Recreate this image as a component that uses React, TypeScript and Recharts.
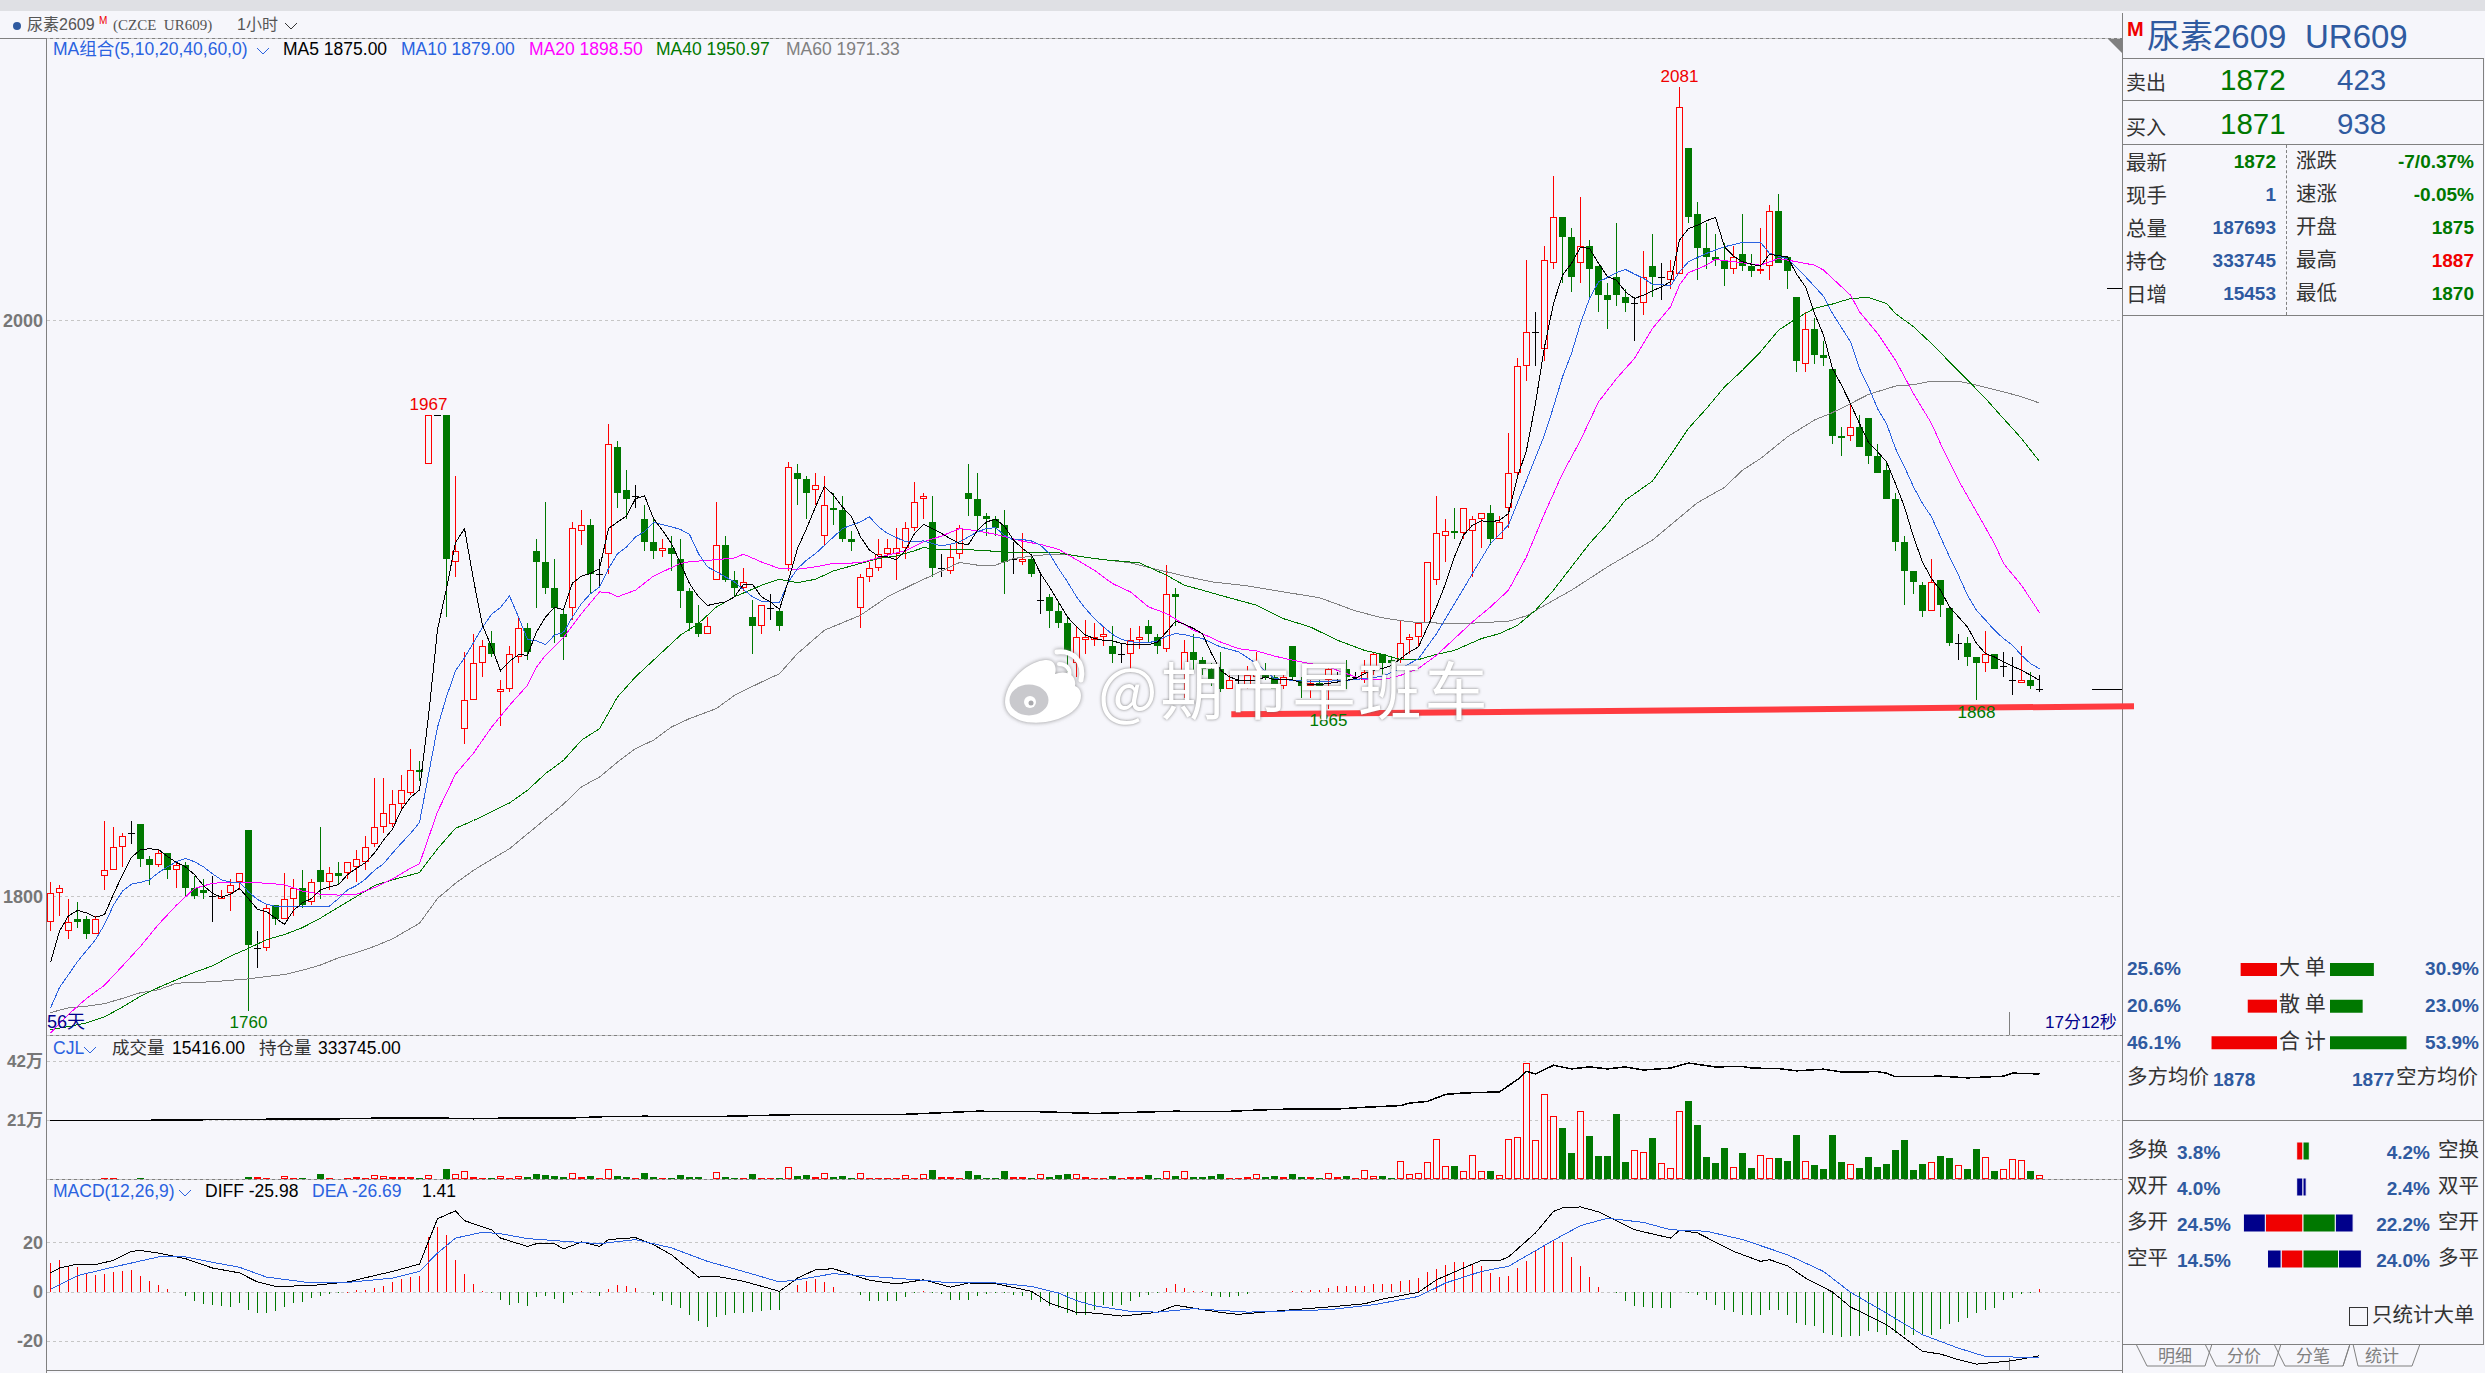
import React from "react";
import { Bar, BarChart, CartesianGrid, ComposedChart, Line, ReferenceDot, ReferenceLine, XAxis, YAxis } from "recharts";

const opens = [
  1791,1801,1788,1792,1792,1787,1807,1809,1817,1822, 1825,1813,1811,1815,1809,1811,1803,1802,1800,1799,
  1801,1805,1823,1782,1782,1797,1792,1799,1803,1798, 1809,1805,1808,1808,1810,1812,1818,1824,1825,1832,
  1836,1844,1950,1967,1967,1916,1858,1868,1881,1888, 1871,1872,1883,1893,1920,1916,1907,1898,1900,1927,
  1929,1912,1919,1956,1941,1939,1931,1923,1920,1921, 1917,1906,1895,1891,1910,1922,1910,1907,1897,1894,
  1900,1899,1915,1947,1945,1941,1925,1935,1934,1924, 1900,1911,1914,1919,1919,1921,1928,1938,1930,1914,
  1913,1919,1940,1938,1932,1931,1929,1917,1916,1917, 1903,1904,1899,1895,1881,1889,1889,1890,1887,1884,
  1884,1889,1894,1890,1886,1905,1878,1885,1882,1879, 1879,1872,1875,1873,1876,1878,1876,1873,1887,1875,
  1873,1874,1875,1875,1879,1876,1875,1879,1884,1882, 1882,1889,1890,1895,1910,1925,1927,1926,1927,1931,
  1933,1924,1935,1947,1984,1996,1990,2020,2036,2029, 2020,2026,2019,2009,2015,2008,2006,2006,2019,2015,
  2014,2016,2060,2037,2025,2022,2021,2018,2023,2019, 2017,2019,2038,2022,2008,1985,1997,1988,1983,1960,
  1960,1963,1966,1953,1948,1938,1923,1913,1908,1899, 1910,1900,1888,1888,1883,1881,1884,1880,1875,1874,
  1875,1872,
];
const highs = [
  1805,1804,1799,1798,1793,1793,1826,1824,1822,1826, 1825,1814,1816,1815,1812,1812,1807,1806,1807,1802,
  1806,1808,1823,1788,1797,1797,1808,1806,1809,1806, 1824,1810,1812,1812,1816,1821,1841,1841,1837,1842,
  1851,1847,1967,1967,1967,1946,1885,1891,1889,1892, 1875,1887,1897,1895,1924,1937,1917,1900,1930,1934,
  1931,1917,1964,1958,1948,1943,1936,1931,1924,1925, 1924,1907,1901,1897,1937,1925,1913,1914,1903,1901,
  1905,1900,1951,1950,1946,1947,1946,1940,1939,1927, 1912,1916,1924,1924,1928,1930,1944,1940,1939,1919,
  1922,1929,1950,1947,1933,1932,1934,1923,1926,1918, 1912,1905,1902,1897,1894,1896,1895,1894,1894,1888,
  1893,1894,1896,1891,1915,1907,1889,1891,1883,1881, 1885,1877,1877,1880,1885,1881,1878,1878,1887,1876,
  1875,1875,1880,1878,1882,1878,1882,1885,1884,1883, 1896,1891,1895,1916,1939,1931,1935,1935,1932,1933,
  1936,1932,1961,1987,2021,2003,2026,2050,2036,2032, 2043,2028,2019,2013,2034,2011,2008,2024,2030,2020,
  2021,2081,2060,2041,2034,2030,2027,2026,2037,2023, 2032,2040,2044,2022,2008,2003,2001,1993,1983,1963,
  1971,1967,1966,1957,1951,1940,1925,1913,1909,1917, 1910,1900,1891,1890,1883,1892,1884,1885,1883,1887,
  1878,1877,
];
const lows = [
  1788,1793,1785,1789,1785,1787,1802,1809,1810,1818, 1810,1804,1810,1806,1803,1800,1799,1799,1791,1799,
  1795,1802,1760,1775,1781,1790,1792,1793,1796,1797, 1799,1802,1804,1806,1805,1809,1817,1822,1824,1830,
  1835,1840,1950,1967,1897,1911,1853,1868,1876,1883, 1859,1871,1881,1882,1900,1905,1888,1882,1896,1922,
  1905,1907,1912,1935,1931,1935,1920,1917,1918,1913, 1900,1892,1890,1891,1910,1909,1904,1906,1884,1891,
  1896,1892,1913,1936,1931,1936,1922,1929,1923,1920, 1893,1909,1913,1918,1910,1917,1927,1931,1911,1911,
  1912,1917,1932,1927,1925,1925,1905,1912,1915,1911, 1898,1893,1893,1878,1876,1884,1887,1887,1881,1881,
  1879,1886,1888,1884,1885,1894,1869,1878,1877,1873, 1871,1872,1873,1872,1871,1875,1872,1872,1875,1869,
  1869,1872,1865,1874,1872,1875,1874,1877,1876,1879, 1881,1884,1887,1895,1908,1916,1924,1924,1911,1921,
  1922,1924,1928,1946,1979,1984,1986,2018,2013,2010, 2013,2007,2003,1997,2005,2003,1993,2002,2008,2007,
  2011,2016,2034,2014,2018,2019,2012,2016,2017,2015, 2016,2014,2020,2011,1982,1982,1985,1984,1957,1953,
  1958,1956,1950,1947,1938,1920,1901,1905,1897,1899, 1897,1887,1882,1880,1868,1878,1879,1876,1870,1874,
  1872,1871,
];
const closes = [
  1801,1803,1791,1791,1787,1792,1809,1817,1821,1822, 1813,1811,1815,1809,1811,1803,1800,1801,1800,1800,
  1804,1808,1783,1782,1796,1792,1799,1803,1797,1805, 1805,1808,1807,1812,1813,1817,1824,1829,1832,1837,
  1844,1843,1967,1967,1917,1920,1868,1881,1887,1884, 1872,1884,1893,1885,1916,1907,1900,1890,1928,1929,
  1912,1912,1957,1940,1938,1939,1923,1920,1921,1919, 1906,1895,1891,1894,1922,1910,1907,1909,1894,1901,
  1900,1894,1949,1945,1940,1943,1936,1934,1924,1923, 1911,1914,1919,1921,1921,1928,1937,1939,1914,1914,
  1918,1928,1938,1932,1931,1928,1916,1917,1917,1912, 1903,1899,1895,1885,1890,1890,1890,1891,1884,1884,
  1889,1890,1891,1887,1905,1904,1885,1882,1879,1874, 1872,1875,1875,1877,1878,1876,1872,1876,1876,1873,
  1874,1873,1879,1875,1876,1876,1878,1884,1881,1881, 1888,1890,1895,1916,1926,1927,1926,1935,1931,1933,
  1924,1930,1947,1984,1996,1996,2021,2036,2029,2015, 2026,2018,2009,2007,2009,2006,2006,2015,2015,2015,
  2017,2074,2036,2025,2022,2021,2018,2022,2019,2017, 2018,2038,2020,2017,1986,1997,1988,1987,1960,1959,
  1963,1956,1953,1947,1938,1923,1913,1909,1899,1909, 1901,1888,1888,1883,1881,1884,1879,1880,1875,1875,
  1873,1872,
];

const ma5 = [
  1777.0,1787.9,1793.2,1795.1,1794.2,1792.7,1793.6,1800.7,1807.5,1813.5, 1816.2,1816.5,1816.2,1813.8,1811.7,1810.2,1807.5,1803.7,1801.0,1799.6,
  1800.7,1802.7,1799.2,1795.4,1794.7,1792.4,1790.2,1795.1,1797.7,1799.2, 1802.2,1803.3,1804.0,1807.5,1809.7,1811.7,1815.0,1819.5,1823.3,1830.1,
  1834.3,1836.9,1862.5,1892.6,1906.9,1922.8,1927.7,1909.9,1894.1,1886.6, 1878.3,1881.6,1883.9,1883.7,1891.8,1897.0,1900.3,1899.6,1908.8,1911.2,
  1912.1,1913.8,1927.7,1930.0,1932.1,1938.1,1939.1,1931.2,1927.1,1922.5, 1915.6,1908.6,1904.0,1901.0,1901.7,1902.2,1904.0,1908.3,1908.3,1904.0,
  1902.2,1899.6,1909.8,1920.8,1927.7,1935.2,1942.4,1939.3,1935.2,1931.8, 1924.8,1920.2,1918.1,1917.9,1916.9,1920.2,1926.0,1929.2,1927.7,1926.0,
  1924.2,1922.5,1922.2,1927.1,1930.0,1931.0,1928.5,1923.7,1920.8,1918.5, 1912.1,1907.4,1902.2,1897.0,1893.6,1890.7,1889.5,1888.9,1888.7,1887.8,
  1887.4,1887.4,1887.4,1888.3,1891.8,1895.5,1894.5,1893.0,1891.2,1884.3, 1878.5,1876.2,1875.0,1875.0,1875.0,1876.2,1875.2,1875.2,1875.2,1874.1,
  1873.5,1873.5,1873.9,1874.4,1875.0,1875.6,1877.3,1878.5,1879.1,1880.2, 1882.5,1884.9,1886.6,1893.5,1900.5,1908.6,1917.9,1925.4,1928.9,1930.4,
  1930.0,1930.6,1932.9,1945.7,1954.9,1971.2,1990.8,2005.9,2015.7,2019.8, 2025.4,2025.0,2019.8,2015.2,2014.0,2009.9,2007.6,2008.8,2010.3,2011.7,
  2013.4,2027.9,2031.9,2033.1,2034.6,2035.8,2025.6,2022.3,2020.4,2019.5, 2018.9,2023.0,2022.5,2022.1,2016.1,2011.7,2002.4,1994.9,1983.3,1977.5,
  1971.1,1964.2,1957.6,1954.4,1950.9,1943.3,1935.2,1924.8,1916.1,1910.3, 1906.3,1900.5,1897.0,1893.5,1887.8,1884.3,1883.1,1881.4,1879.9,1878.5,
  1876.8,1875.0,
];

const ma10: [number, number][] = [
  [0,1761.2],[1,1768.3],[2,1772.8],[3,1777.3],[4,1781.1],[5,1784.9],[6,1790.2],[7,1796.9],[8,1801.8],[9,1804.2],[10,1804.8],[11,1805.7],[12,1808.2],[13,1810.2],[14,1812.0],[15,1813.1],[16,1812.0],[17,1810.2],[18,1807.8],[19,1805.7],[20,1804.9],[21,1804.9],[22,1801.5],[23,1798.9],[24,1797.2],[25,1796.5],[31,1796.6],[32,1799.2],[33,1802.2],[34,1803.7],[35,1806.0],[36,1809.0],[37,1811.3],[38,1815.0],[39,1818.5],[40,1821.8],[41,1825.6],[42,1842.2],[43,1858.7],[44,1869.3],[45,1878.3],[46,1882.8],[47,1888.1],[48,1893.4],[49,1897.9],[50,1900.3],[51,1904.3],
  [52,1897.0],[53,1889.2],[54,1888.7],[55,1887.4],[56,1890.7],[57,1891.6],[58,1897.0],[59,1901.7],[60,1905.1],[61,1907.4],[62,1913.8],[63,1919.0],[64,1921.3],[65,1924.8],[66,1926.6],[67,1929.8],[68,1929.1],[69,1928.3],[70,1927.4],[71,1925.7],[72,1919.0],[73,1914.4],[74,1912.7],[75,1910.9],[76,1909.2],[77,1906.5],[78,1904.0],[79,1902.5],[80,1902.2],[81,1902.0],[82,1909.2],[83,1913.8],[84,1916.7],[85,1919.0],[86,1921.9],[87,1924.8],[88,1927.7],[89,1928.9],[90,1930.0],[91,1931.8],[92,1928.3],[93,1926.0],[94,1924.6],[95,1923.1],[96,1923.3],[97,1923.4],[98,1922.5],[99,1921.7],[100,1922.3],[101,1923.1],[102,1924.8],[103,1926.6],[104,1927.7],[105,1928.0],[106,1925.4],[107,1923.7],[108,1923.9],[109,1923.4],[110,1921.9],[111,1919.0],[112,1913.8],[113,1909.2],[114,1904.0],[115,1899.9],[116,1896.4],[117,1893.6],[118,1890.9],[119,1889.2],[120,1888.4],[121,1888.1],[122,1888.1],[123,1888.7],[124,1890.3],[125,1891.2],[126,1890.9],[127,1890.1],
  [128,1889.5],[130,1886.6],[132,1884.9],[134,1880.8],[136,1875.6],[138,1875.0],[140,1874.7],[142,1874.7],[144,1875.0],[146,1875.6],[148,1876.4],[150,1879.1],[152,1882.5],[154,1891.2],[156,1901.6],[158,1912.1],[160,1922.5],[162,1928.9],[164,1944.5],[166,1960.2],[167,1970.0],[168,1980.4],[169,1988.5],[170,1999.0],[171,2007.6],[172,2013.4],[173,2014.9],[174,2016.6],[175,2017.7],[176,2016.1],[177,2014.6],[178,2012.5],[179,2012.5],[180,2011.9],[181,2016.9],[182,2020.4],[184,2023.3],[186,2025.6],[188,2027.1],[190,2027.1],[191,2023.3],[192,2022.3],[193,2021.5],[195,2015.2],[197,2008.4],[198,2002.4],[200,1992.6],[201,1983.3],[202,1976.9],[203,1969.4],[204,1964.2],[205,1955.5],[206,1949.1],[207,1942.2],[208,1936.4],[209,1931.8],[210,1924.8],[211,1917.9],[212,1911.5],[213,1904.5],[214,1899.3],[215,1895.9],[216,1892.4],[217,1889.5],[218,1887.2],[219,1883.7],[220,1880.8],[221,1879.0],
];
const ma20: [number, number][] = [
  [0,1752.5],[2,1759.0],[4,1764.5],[6,1769.1],[8,1775.8],[10,1782.6],[12,1790.2],[14,1796.9],[16,1802.7],[18,1804.5],[20,1804.9],[22,1804.9],[24,1804.5],[26,1804.0],[28,1801.8],[30,1800.7],[32,1800.4],[34,1800.7],[36,1803.0],[38,1806.0],[40,1809.7],[41,1811.3],[43,1829.3],[45,1842.4],[47,1849.7],[49,1858.7],[51,1866.3],
  [53,1873.3],[54,1879.6],[55,1883.7],[57,1889.8],[59,1898.2],[61,1905.7],[62,1905.5],[63,1904.0],[65,1906.3],[67,1911.2],[70,1915.6],[71,1916.2],[74,1916.9],[76,1917.5],[77,1918.8],[79,1916.1],[81,1913.8],[83,1913.6],[85,1914.4],[87,1915.6],[90,1915.8],[93,1918.5],[95,1920.0],[97,1923.1],[99,1925.1],[101,1927.7],[103,1926.9],[105,1925.7],[108,1923.3],[110,1922.2],[112,1920.5],[114,1916.9],[116,1913.2],[118,1908.6],[120,1905.7],[122,1900.5],[124,1898.2],[127,1892.4],
  [128,1891.2],[130,1888.3],[132,1886.0],[134,1885.2],[136,1883.4],[138,1882.0],[140,1880.8],[142,1879.6],[144,1877.3],[146,1875.2],[148,1875.2],[150,1876.7],[152,1879.1],[154,1883.7],[156,1889.5],[158,1895.3],[160,1900.5],[162,1906.3],[164,1917.9],[166,1932.9],[168,1946.8],[170,1958.4],[172,1971.7],[174,1979.8],[176,1986.8],[178,1997.2],[180,2004.7],[181,2012.3],[182,2016.6],[184,2019.2],[185,2021.2],[187,2020.4],[190,2019.2],[192,2021.5],[194,2020.4],[196,2019.2],[197,2017.5],[199,2011.7],[200,2008.8],[201,2003.0],[203,1995.5],[205,1986.2],[207,1974.6],[209,1964.2],[210,1957.2],[212,1944.5],[214,1933.5],[216,1922.5],[217,1915.6],[219,1908.0],[221,1898.5],
];
const ma40: [number, number][] = [
  [0,1753.7],[2,1754.7],[4,1756.0],[6,1758.1],[8,1761.5],[10,1765.3],[12,1768.3],[14,1771.0],[16,1773.6],[18,1775.8],[20,1779.2],[22,1781.9],[24,1784.9],[26,1786.7],[28,1789.1],[30,1792.4],[32,1796.2],[34,1799.9],[36,1803.7],[38,1805.7],[41,1808.2],[43,1816.5],[45,1823.6],[47,1826.3],[49,1829.3],[51,1832.4],
  [53,1836.8],[55,1842.6],[57,1847.2],[59,1854.2],[61,1858.2],[63,1869.2],[65,1876.2],[67,1882.0],[70,1890.7],[72,1894.7],[74,1900.5],[76,1904.0],[79,1908.0],[81,1910.1],[83,1908.9],[85,1910.1],[87,1913.0],[90,1915.6],[92,1917.3],[94,1918.2],[96,1920.0],[97,1921.1],[99,1920.4],[101,1920.5],[103,1920.2],[106,1919.6],[109,1919.3],[112,1919.3],[114,1918.2],[117,1916.9],[121,1915.8],[124,1911.5],[126,1908.0],
  [128,1906.3],[130,1904.5],[134,1901.1],[137,1896.4],[140,1893.5],[143,1888.9],[146,1885.4],[148,1884.0],[150,1882.2],[152,1882.2],[154,1884.0],[156,1885.4],[159,1889.5],[161,1891.2],[163,1894.1],[165,1899.3],[167,1906.3],[169,1914.4],[171,1922.5],[173,1929.4],[175,1937.6],[178,1944.2],[180,1953.2],[182,1962.5],[184,1969.4],[186,1976.9],[188,1982.7],[190,1989.1],[192,1996.6],[194,2000.7],[196,2004.2],[198,2005.7],[200,2007.6],[202,2008.0],[204,2005.9],[205,2002.4],[207,1997.8],[209,1992.0],[211,1985.6],[213,1979.3],[215,1972.9],[217,1965.9],[219,1959.0],[221,1951.0],
];
const ma60: [number, number][] = [
  [0,1759.6],[2,1761.2],[4,1761.8],[6,1762.7],[8,1764.5],[10,1766.5],[12,1767.5],[14,1769.8],[18,1770.3],[22,1771.3],[24,1772.1],[26,1772.8],[28,1774.3],[30,1776.1],[32,1778.6],[34,1780.4],[36,1782.6],[38,1785.2],[41,1790.6],[43,1799.2],[45,1804.5],[47,1809.0],[49,1812.8],[51,1816.5],[57,1832.0],
  [59,1838.0],[61,1841.4],[63,1846.6],[65,1851.3],[67,1854.2],[69,1858.8],[71,1861.7],[74,1865.2],[76,1869.8],[79,1874.4],[81,1877.3],[83,1884.3],[86,1892.4],[90,1897.6],[93,1904.0],[96,1908.6],[98,1911.5],[101,1915.9],[103,1915.0],[105,1915.0],[107,1917.3],[110,1918.5],[113,1918.7],[116,1917.3],[120,1915.8],[122,1914.2],
  [126,1911.2],[129,1909.2],[133,1907.8],[137,1905.7],[141,1903.7],[145,1899.1],[148,1896.7],[151,1895.3],[154,1894.9],[157,1894.7],[162,1895.5],[164,1897.4],[167,1902.8],[169,1906.3],[173,1914.4],[178,1923.7],[183,1936.7],[186,1942.0],[188,1948.0],[190,1952.0],[193,1959.6],[196,1965.4],[198,1968.0],[200,1971.1],[202,1974.3],[205,1977.2],[207,1977.7],[209,1978.9],[212,1978.9],[214,1977.5],[217,1975.2],[219,1973.5],[221,1971.3],
];

// volume and position, in 万
const volumes = [
  .1,.1,.1,.1,.1,.1,.4,.4,.1,.1, .4,.1,.1,.1,.1,.1,.1,.1,.1,.1,
  .1,.1,.7,.7,.4,.1,1.0,.5,.5,.1, 1.8,.5,.1,.4,.7,.4,1.4,1.2,.8,.6,
  .7,.5,1.4,.1,3.6,1.8,2.9,.7,.4,.4, 1.1,.4,1.0,.7,1.8,1.5,1.2,.7,2.1,.7,
  1.2,.4,3.6,1.2,.8,.5,2.1,.8,.4,.4, 1.4,.8,.7,.1,2.6,.8,.4,.4,1.8,.4,
  .4,.4,4.3,1.2,1.4,.7,2.1,.8,1.1,.4, 2.1,.4,.4,.4,.4,1.4,.4,1.8,3.3,.7,
  .7,.4,3.0,1.5,.4,.4,3.0,.7,.7,.4, 1.8,.7,1.4,1.8,1.8,.7,.4,.2,1.2,.4,
  .7,.7,1.4,.4,2.9,1.2,2.9,.7,.7,1.1, 1.8,.4,.4,.7,1.8,.7,1.1,.7,1.8,.7,
  .7,.4,2.1,.7,1.2,.4,3.2,1.1,1.2,.4, 6.4,1.8,2.1,6.1,14.3,4.6,4.8,2.9,8.6,2.9,
  2.9,1.4,14.3,14.9,41.4,13.9,30.3,22.5,18.2,9.3, 24.3,15.4,8.2,8.2,23.2,6.1,10.4,9.6,14.6,5.7,
  3.9,24.3,27.8,19.3,7.9,5.7,11.1,4.3,9.3,3.9, 8.6,7.5,7.5,6.4,15.7,6.4,5.0,3.6,15.7,6.1,
  5.4,3.9,7.9,4.3,5.4,10.4,13.9,3.2,5.4,6.1, 8.2,7.5,5.0,3.6,10.7,7.9,2.9,3.6,7.1,6.8,
  2.9,1.4,
];
const openInterest: [number, number][] = [
  [0,20.8],[9,20.9],[22,21.3],[30,21.4],[36,21.7],[44,21.7],[47,21.5],[50,21.7],[57,21.7],[62,22.3],[66,22.4],[74,22.3],[83,23.0],[95,23.1],[103,24.2],[110,24.0],[116,23.4],
  [125,24.2],[130,24.0],[134,24.6],[138,25.0],[143,25.0],[146,25.6],[150,26.2],[151,27.1],[153,27.7],[155,30.2],[157,30.7],[161,31.1],[163,35.5],[164,38.4],[165,37.5],[167,40.6],[169,39.3],[171,40.0],[173,39.3],[175,40.0],[177,38.9],[180,39.6],[182,41.4],[185,40.0],[188,40.2],[189,39.6],[192,39.4],[194,38.6],[197,39.2],[199,38.2],[203,38.3],[204,37.8],[205,36.5],[210,36.7],[213,36.1],[217,36.7],[218,37.8],[221,37.5],
];

const diff: [number, number][] = [
  [0,7.8],[1,9.8],[3,11.4],[5,11.2],[7,12.9],[9,16.6],[10,16.9],[12,15.9],[15,13.6],[18,9.8],[21,7.8],[23,4.1],[25,2.3],[29,2.6],[31,3.4],[33,4.1],[36,6.7],[38,8.4],[41,11.4],[42,20.7],[43,29.9],[45,33.1],[46,29.1],[49,25.4],[50,22.0],[53,18.6],[54,19.7],[56,19.7],[57,17.6],[59,20.4],[61,18.6],[62,21.4],[65,22.2],[67,19.3],[69,15.2],[72,6.1],[74,6.4],[77,4.4],[81,0.3],[83,5.7],[85,9.1],[87,9.5],[91,4.8],[94,3.3],[97,5.0],[100,2.0],[102,3.7],[105,3.4],[109,0.3],[111,-4.5],[114,-8.3],[116,-8.6],
  [119,-9.8],[123,-8.3],[125,-5.4],[130,-8.3],[132,-9.1],[137,-7.5],[142,-6.1],[146,-4.8],[148,-2.9],[152,-0.1],[154,5.0],[157,9.8],[159,12.9],[161,12.8],[162,14.3],[165,24.1],[167,32.9],[168,34.3],[170,34.7],[172,32.7],[176,25.4],[180,22.0],[181,25.2],[183,24.1],[187,16.6],[190,12.5],[191,13.2],[193,10.7],[195,5.7],[198,0],[200,-6.1],[204,-13.3],[208,-24.2],[210,-25.3],[212,-27.6],[214,-29.4],[218,-28.0],[221,-26.0],
];
const dea: [number, number][] = [
  [0,1.2],[3,6.7],[7,10.2],[12,14.3],[15,14.3],[18,12.1],[21,10.1],[24,6.1],[29,3.7],[33,3.9],[38,5.7],[41,8.4],[43,15.9],[45,22.0],[48,24.4],[50,23.8],[53,21.8],[57,20.7],[61,19.7],[65,21.4],[69,18.0],[73,12.5],[77,8.4],[81,4.1],[83,5.0],[87,7.5],[91,6.4],[97,4.8],[100,3.7],[105,3.7],[109,2.3],[112,-0.4],[114,-3.5],[116,-5.6],
  [120,-7.9],[123,-8.2],[127,-6.8],[133,-8.2],[142,-7.2],[147,-5.2],[152,-1.8],[155,3.7],[159,8.4],[162,10.5],[167,21.1],[170,27.1],[173,30.1],[177,28.4],[180,25.4],[184,24.8],[188,21.4],[193,15.2],[197,8.4],[200,-0.1],[204,-8.6],[208,-17.4],[212,-22.9],[215,-26.3],[221,-26.7],
];
const macdHist = [
  11.8,13.2,10.7,10.2,7.3,6.8,7.5,8.2,8.6,8.8, 6.7,4.6,3.0,1.1,0,-1.8,-3.8,-4.8,-5.4,-5.9,
  -6.1,-4.5,-7.2,-8.6,-8.6,-7.6,-6.1,-4.5,-4.2,-2.4, -1.5,-.8,-.4,.1,.7,1.0,1.6,2.6,3.9,5.3,
  6.1,6.4,22.4,26.5,23.4,13.2,7.2,3.4,.3,-.1, -3.4,-5.2,-4.5,-5.9,-2.2,-1.8,-2.9,-4.5,-1.1,.3,
  -.4,-1.8,1.2,3.0,2.3,1.6,0,-1.1,-3.8,-5.2, -6.5,-9.3,-12,-14.4,-10.3,-9.3,-8.6,-8.6,-8.3,-7.9,
  -7.5,-7.5,0,3.0,4.4,5.3,3.9,1.9,0,0, -1.1,-3.8,-3.8,-3.8,-3.8,-2.0,-.4,.3,-.4,-.7,
  -3.1,-3.4,-3.1,-1.8,-.7,-.4,-.1,-1.1,-1.8,-3.1, -4.2,-5.6,-6.5,-8.6,-9.3,-9.3,-7.2,-5.2,-5.9,-5.2,
  -3.8,-2.2,-1.1,-.4,1.6,3.4,1.6,.5,.3,-1.5, -2.2,-2.0,-1.8,-.7,0,0,0,0,.3,.4,
  .7,.7,1.6,2.3,2.3,2.3,2.6,3.3,3.3,3.3, 4.4,4.8,5.7,8.0,9.4,11.2,12.1,12.1,11.6,10.5,
  7.8,6.1,6.4,9.8,12.5,16.6,18.6,20.7,20.4,14.1, 10.5,6.0,1.9,0,-.4,-3.5,-5.6,-6.1,-6.5,-6.5,
  -6.5,0,-.4,-1.1,-3.1,-5.2,-7.2,-8.3,-9.3,-9.3, -9.3,-7.2,-7.5,-9.3,-12.7,-13.3,-14.0,-16.7,-17.4,-18.5,
  -18.1,-17.8,-16.1,-16.5,-17.4,-16.7,-17.4,-17.4,-17.0,-17.4, -15.1,-12.9,-12.4,-10.6,-8.6,-7.2,-6.5,-3.4,-2.4,-.7,
  -.4,1.4,
];

const priceTicks = [1800, 2000];
const volumeTicks = [21, 42];
const macdTicks = [-20, 0, 20];
const extremes = [
  { i: 42, price: 1967, top: true },
  { i: 181, price: 2081, top: true },
  { i: 22, price: 1760, top: false },
  { i: 142, price: 1865, top: false },
  { i: 214, price: 1868, top: false },
];
// hand drawn support line: [candle index, price]
const supportLine: [number, number][] = [[131.2, 1863.2], [231.5, 1866]];

const orderShare = [
  { name: "大 单", left: 25.6, right: 30.9 },
  { name: "散 单", left: 20.6, right: 23.0 },
  { name: "合 计", left: 46.1, right: 53.9 },
];
const tradeKinds = ["多换", "双开", "多开", "空平"];
const tradeKindsRight = ["空换", "双平", "空开", "多平"];
const tradeLeftPct = ["3.8%", "4.0%", "24.5%", "14.5%"];
const tradeRightPct = ["4.2%", "2.4%", "22.2%", "24.0%"];
const tradeRedSeg = [2.6, 0, 15.5, 9.0];
const tradeBlueLeft = [0, 2.6, 9.0, 5.6];
const tradeGreenSeg = [2.6, 0, 13.3, 14.6];
const tradeBlueRight = [0, 1.3, 7.3, 9.4];

const statsLeft = [
  ["最新", "1872", "#007800"],
  ["现手", "1", "#2f5aa0"],
  ["总量", "187693", "#2f5aa0"],
  ["持仓", "333745", "#2f5aa0"],
  ["日增", "15453", "#2f5aa0"],
];
const statsRight = [
  ["涨跌", "-7/0.37%", "#007800"],
  ["速涨", "-0.05%", "#007800"],
  ["开盘", "1875", "#007800"],
  ["最高", "1887", "#f00000"],
  ["最低", "1870", "#007800"],
];
const tabs = ["明细", "分价", "分笔", "统计"];

const BG = "#f6f6fb";
const RED = "#ff0000";
const GREEN = "#007800";
const BLUE = "#2f5aa0";
const LINE_BLUE = "#2a62e0";
const GRAY = "#808080";
const SANS = '"Liberation Sans", "Noto Sans CJK SC", sans-serif';
const CJK = '"Noto Sans CJK SC", sans-serif';

const toMap = (pairs: [number, number][]) => new Map(pairs);
const ma10Map = toMap(ma10);
const ma20Map = toMap(ma20);
const ma40Map = toMap(ma40);
const ma60Map = toMap(ma60);
const oiMap = toMap(openInterest);
const diffMap = toMap(diff);
const deaMap = toMap(dea);

const rows = opens.map((open, i) => ({
  i,
  open,
  high: highs[i],
  low: lows[i],
  close: closes[i],
  range: [lows[i], highs[i]],
  ma5: ma5[i],
  ma10: ma10Map.get(i) ?? null,
  ma20: ma20Map.get(i) ?? null,
  ma40: ma40Map.get(i) ?? null,
  ma60: ma60Map.get(i) ?? null,
  vol: volumes[i],
  oi: oiMap.get(i) ?? null,
  diff: diffMap.get(i) ?? null,
  dea: deaMap.get(i) ?? null,
  hist: macdHist[i],
}));

// candle index -> pixel: 50.5 + 9 * i across the plot from 47 to 2122
const xDomain: [number, number] = [(47 - 50.5) / 9, (2122 - 50.5) / 9];

const CandleMark = (props: any) => {
  const { x, y, width, height, payload } = props;
  const { open, close, high, low } = payload;
  const cx = Math.floor(x + width / 2);
  const unit = high > low ? height / (high - low) : 0;
  const yAt = (v: number) => Math.round(y + (high - v) * unit);
  const top = Math.round(y);
  const bottom = Math.round(y + height);
  if (open === close) {
    return (
      <g shapeRendering="crispEdges">
        <rect x={cx} y={top} width={1} height={Math.max(bottom - top, 0)} fill="#000" />
        <rect x={cx - 3} y={yAt(close)} width={7} height={1} fill="#000" />
      </g>
    );
  }
  const color = close > open ? RED : GREEN;
  const bodyTop = yAt(Math.max(open, close));
  const bodyBottom = yAt(Math.min(open, close));
  return (
    <g shapeRendering="crispEdges">
      <rect x={cx} y={top} width={1} height={Math.max(bottom - top, 1)} fill={color} />
      {close > open ? (
        <rect x={cx - 2.5} y={bodyTop + 0.5} width={6} height={Math.max(bodyBottom - bodyTop - 1, 1)} fill={BG} stroke={color} />
      ) : (
        <rect x={cx - 3} y={bodyTop} width={7} height={Math.max(bodyBottom - bodyTop, 1)} fill={color} />
      )}
    </g>
  );
};

const VolumeMark = (props: any) => {
  const { x, y, width, height, payload } = props;
  const cx = Math.floor(x + width / 2);
  const top = Math.round(y);
  const h = Math.max(Math.round(height), 1);
  if (payload.close >= payload.open) {
    return <rect x={cx - 2.5} y={top + 0.5} width={6} height={Math.max(h - 1, 1)} fill={BG} stroke={RED} shapeRendering="crispEdges" />;
  }
  return <rect x={cx - 3} y={top} width={7} height={h} fill={GREEN} shapeRendering="crispEdges" />;
};

const HistMark = (props: any) => {
  const { x, y, width, height, payload } = props;
  if (!payload.hist) return null;
  const cx = Math.floor(x + width / 2);
  const top = Math.min(y, y + height);
  return <rect x={cx} y={Math.round(top)} width={1} height={Math.max(Math.round(Math.abs(height)), 1)} fill={payload.hist > 0 ? RED : GREEN} shapeRendering="crispEdges" />;
};

const T = ({ x, y, size, color = "#333", bold, right, font = SANS, children }: any) => (
  <span
    style={{
      position: "absolute",
      top: y,
      ...(right ? { right: 2485 - x } : { left: x }),
      transform: "translateY(-50%)",
      fontSize: size,
      color,
      fontWeight: bold ? 700 : 400,
      fontFamily: font,
      whiteSpace: "pre",
      lineHeight: 1,
    }}
  >
    {children}
  </span>
);

const Rule = ({ x, y, w, h, color = GRAY }: any) => (
  <div style={{ position: "absolute", left: x, top: y, width: w, height: h, background: color }} />
);

const Chevron = ({ x, y, color }: any) => (
  <svg style={{ position: "absolute", left: x, top: y }} width={14} height={9}>
    <polyline points="1,1 7,7 13,1" fill="none" stroke={color} strokeWidth={1} />
  </svg>
);

const axisTick = { fontSize: 18, fontWeight: 700, fill: "#777", fontFamily: SANS };
const chartMargin = { top: 0, right: 363, bottom: 0, left: 0 };
const chartStyle = { position: "absolute" as const, left: 0, fontFamily: SANS };
// the platform draws its lines without smoothing
const lineProps = { dot: false, connectNulls: true, isAnimationActive: false, strokeWidth: 1, shapeRendering: "crispEdges" } as const;

const MainPane = () => (
  <ComposedChart width={2485} height={997} data={rows} margin={chartMargin} style={{ ...chartStyle, top: 38 }}>
    <CartesianGrid vertical={false} stroke="#c6c6c6" strokeDasharray="3 3" shapeRendering="crispEdges" />
    <XAxis dataKey="i" type="number" domain={xDomain} hide />
    <YAxis type="number" domain={[1751.8, 2098.1]} ticks={priceTicks} width={47} axisLine={false} tickLine={false} tickSize={2} tickMargin={2} tick={axisTick} interval={0} />
    <Bar dataKey="range" barSize={7} shape={<CandleMark />} isAnimationActive={false} />
    <Line dataKey="ma60" stroke={GRAY} {...lineProps} />
    <Line dataKey="ma40" stroke={GREEN} {...lineProps} />
    <Line dataKey="ma20" stroke="#ff00ff" {...lineProps} />
    <Line dataKey="ma10" stroke={LINE_BLUE} {...lineProps} />
    <Line dataKey="ma5" stroke="#000" {...lineProps} />
    {extremes.map((e) => (
      <ReferenceDot
        key={e.i}
        x={e.i}
        y={e.price}
        r={0}
        fill="none"
        stroke="none"
        label={{ value: String(e.price), position: e.top ? "top" : "bottom", fill: e.top ? "#f00000" : GREEN, fontSize: 17 }}
      />
    ))}
    <ReferenceLine
      ifOverflow="visible"
      segment={[
        { x: supportLine[0][0], y: supportLine[0][1] },
        { x: supportLine[1][0], y: supportLine[1][1] },
      ]}
      stroke="#ff3b40"
      strokeWidth={6}
    />
  </ComposedChart>
);

const VolumePane = () => (
  <ComposedChart width={2485} height={144} data={rows} margin={chartMargin} style={{ ...chartStyle, top: 1035 }}>
    <CartesianGrid vertical={false} stroke="#c6c6c6" strokeDasharray="3 3" shapeRendering="crispEdges" />
    <XAxis dataKey="i" type="number" domain={xDomain} hide />
    <YAxis type="number" domain={[0, 51.4]} ticks={volumeTicks} width={47} axisLine={false} tickLine={false} tickSize={2} tickMargin={2} tick={{ ...axisTick, fontSize: 17 }} interval={0} tickFormatter={(v) => `${v}万`} />
    <Bar dataKey="vol" barSize={7} shape={<VolumeMark />} isAnimationActive={false} />
    <Line dataKey="oi" stroke="#000" {...lineProps} strokeWidth={1.5} />
  </ComposedChart>
);

const MacdPane = () => (
  <ComposedChart width={2485} height={191} data={rows} margin={chartMargin} style={{ ...chartStyle, top: 1179 }}>
    <CartesianGrid vertical={false} stroke="#c6c6c6" strokeDasharray="3 3" shapeRendering="crispEdges" />
    <XAxis dataKey="i" type="number" domain={xDomain} hide />
    <YAxis type="number" domain={[-31.8, 46.1]} ticks={macdTicks} width={47} axisLine={false} tickLine={false} tickSize={2} tickMargin={2} tick={axisTick} interval={0} />
    <Bar dataKey="hist" barSize={1} shape={<HistMark />} isAnimationActive={false} />
    <Line dataKey="diff" stroke="#000" {...lineProps} />
    <Line dataKey="dea" stroke={LINE_BLUE} {...lineProps} />
  </ComposedChart>
);

// spacer keeps the two sides apart so the row name fits between them
const shareRows = orderShare.map((r) => ({ name: r.name, gapL: -18.66, left: -r.left, gapR: 18.66, right: r.right }));
const tradeRows = tradeKinds.map((name, i) => ({
  name,
  red: -tradeRedSeg[i],
  blueL: -tradeBlueLeft[i],
  green: tradeGreenSeg[i],
  blueR: tradeBlueRight[i],
}));

const OrderShareBars = () => (
  <BarChart width={361} height={110} data={shareRows} layout="vertical" stackOffset="sign" margin={{ top: 0, right: 0, bottom: 0, left: 0 }} style={{ position: "absolute", left: 2123, top: 951 }}>
    <XAxis type="number" domain={[-127.1, 127.1]} hide />
    <YAxis type="category" dataKey="name" hide />
    <Bar dataKey="gapL" stackId="s" barSize={13} fill="none" isAnimationActive={false} />
    <Bar dataKey="left" stackId="s" barSize={13} fill="#f00000" isAnimationActive={false} />
    <Bar dataKey="gapR" stackId="s" barSize={13} fill="none" isAnimationActive={false} />
    <Bar dataKey="right" stackId="s" barSize={13} fill={GREEN} isAnimationActive={false} />
  </BarChart>
);

const TradeBars = () => (
  <BarChart width={360} height={144} data={tradeRows} layout="vertical" stackOffset="sign" margin={{ top: 0, right: 0, bottom: 0, left: 0 }} style={{ position: "absolute", left: 2123, top: 1133 }}>
    <XAxis type="number" domain={[-74, 74]} hide />
    <YAxis type="category" dataKey="name" hide />
    <Bar dataKey="red" stackId="s" barSize={18} fill="#f00000" stroke={BG} isAnimationActive={false} />
    <Bar dataKey="blueL" stackId="s" barSize={18} fill="#00008b" stroke={BG} isAnimationActive={false} />
    <Bar dataKey="green" stackId="s" barSize={18} fill={GREEN} stroke={BG} isAnimationActive={false} />
    <Bar dataKey="blueR" stackId="s" barSize={18} fill="#00008b" stroke={BG} isAnimationActive={false} />
  </BarChart>
);

const Watermark = () => (
  <>
    <svg style={{ position: "absolute", left: 995, top: 640, filter: "drop-shadow(0 0 2px rgba(110,110,110,.75))" }} width={100} height={92}>
      <path d="M10 62 C10 44 30 22 50 20 C60 19 62 28 60 34 C70 30 82 34 80 46 C90 50 88 68 70 76 C46 88 10 84 10 62 Z" fill="#fff" />
      <ellipse cx={34} cy={60} rx={21} ry={17} fill="#c9c9cd" stroke="#fff" strokeWidth={3} />
      <circle cx={35} cy={62} r={6} fill="#fff" />
      <circle cx={36} cy={63} r={2.5} fill="#a9a9ad" />
      <path d="M62 12 C78 10 90 22 86 40" fill="none" stroke="#fff" strokeWidth={5} strokeLinecap="round" />
      <path d="M64 24 C72 24 76 30 74 36" fill="none" stroke="#fff" strokeWidth={4} strokeLinecap="round" />
    </svg>
    <span
      style={{
        position: "absolute",
        left: 1098,
        top: 648,
        fontSize: 63,
        letterSpacing: 3,
        lineHeight: "78px",
        color: "#fff",
        fontFamily: CJK,
        whiteSpace: "pre",
        textShadow: "0 0 3px rgba(100,100,100,.85)",
      }}
    >
      @期市早班车
    </span>
  </>
);

const SidePanel = () => (
  <>
    <T x={2127} y={29} size={20} color="#f00000" bold>M</T>
    <T x={2147} y={36} size={33} color={BLUE}>尿素2609</T>
    <T x={2305} y={36} size={33} color={BLUE}>UR609</T>
    <Rule x={2122} y={58} w={361} h={1} />
    <Rule x={2122} y={100} w={361} h={1} />
    <Rule x={2122} y={144} w={361} h={1} />
    <Rule x={2122} y={315} w={361} h={1} />
    <Rule x={2483} y={58} w={1} h={1286} />
    <T x={2126} y={83} size={20}>卖出</T>
    <T x={2220} y={80} size={29.5} color={GREEN}>1872</T>
    <T x={2337} y={80} size={29.5} color={BLUE}>423</T>
    <T x={2126} y={128} size={20}>买入</T>
    <T x={2220} y={124} size={29.5} color={GREEN}>1871</T>
    <T x={2337} y={124} size={29.5} color={BLUE}>938</T>
    <div style={{ position: "absolute", left: 2286, top: 145, height: 170, borderLeft: "1px dashed #808080" }} />
    {statsLeft.map(([label, value, color], i) => (
      <React.Fragment key={label}>
        <T x={2126} y={163 + i * 33} size={20.5}>{label}</T>
        <T x={2276} y={161 + i * 33} size={19} color={color} bold right>{value}</T>
      </React.Fragment>
    ))}
    {statsRight.map(([label, value, color], i) => (
      <React.Fragment key={label}>
        <T x={2296} y={161 + i * 33} size={20.5}>{label}</T>
        <T x={2474} y={161 + i * 33} size={19} color={color} bold right>{value}</T>
      </React.Fragment>
    ))}
    {orderShare.map((r, i) => (
      <React.Fragment key={r.name}>
        <T x={2127} y={968 + i * 37} size={19} color={BLUE} bold>{r.left.toFixed(1)}%</T>
        <T x={2479} y={968 + i * 37} size={19} color={BLUE} bold right>{r.right.toFixed(1)}%</T>
        <T x={2279} y={965 + i * 37} size={21} font={CJK}>{r.name}</T>
      </React.Fragment>
    ))}
    <T x={2127} y={1077} size={20.5}>多方均价</T>
    <T x={2213} y={1079} size={19} color={BLUE} bold>1878</T>
    <T x={2352} y={1079} size={19} color={BLUE} bold>1877</T>
    <T x={2396} y={1077} size={20.5}>空方均价</T>
    <Rule x={2123} y={1120} w={360} h={1} />
    {tradeKinds.map((name, i) => (
      <React.Fragment key={name}>
        <T x={2127} y={1150 + i * 36} size={20.5}>{name}</T>
        <T x={2177} y={1152 + i * 36} size={19} color={BLUE} bold>{tradeLeftPct[i]}</T>
        <T x={2430} y={1152 + i * 36} size={19} color={BLUE} bold right>{tradeRightPct[i]}</T>
        <T x={2438} y={1150 + i * 36} size={20.5}>{tradeKindsRight[i]}</T>
      </React.Fragment>
    ))}
    <div style={{ position: "absolute", left: 2349, top: 1307, width: 17, height: 17, border: "1px solid #333" }} />
    <T x={2372} y={1315} size={20.5}>只统计大单</T>
    <Rule x={2122} y={1344} w={362} h={1} />
    <svg style={{ position: "absolute", left: 2122, top: 1344 }} width={340} height={26}>
      <g fill="none" stroke="#808080" strokeWidth={1}>
        <polyline points="14,0 25,22 83,22 90,0" />
        <polyline points="83,0 94,22 152,22 159,0" />
        <polyline points="152,0 163,22 221,22 228,0" />
        <polyline points="228,0 221,22" />
        <polyline points="231,0 236,22 290,22 298,0" />
      </g>
    </svg>
    {tabs.map((t, i) => (
      <T key={t} x={2158 + i * 69} y={1356} size={17} color="#808080">{t}</T>
    ))}
  </>
);

export default function App() {
  return (
    <div style={{ position: "absolute", left: 0, top: 0, width: 2485, height: 1373, background: BG, overflow: "hidden", fontFamily: SANS }}>
      <Rule x={0} y={0} w={2485} h={11} color="#dfe0e4" />
      <Rule x={0} y={38} w={2122} h={1} />
      <Rule x={46} y={38} w={1} h={1335} />
      <Rule x={2122} y={13} w={1} h={1360} />
      <Rule x={47} y={1035} w={2075} h={1} />
      <Rule x={47} y={1179} w={2075} h={1} />
      <Rule x={47} y={1370} w={2075} h={1} />
      <Rule x={2009} y={1012} w={1} h={23} />
      <Rule x={2009} y={1358} w={1} h={12} />
      <Rule x={2107} y={288} w={15} h={1} color="#000" />
      <Rule x={2092} y={689} w={30} h={1} color="#000" />
      <svg style={{ position: "absolute", left: 2107, top: 38 }} width={16} height={16}>
        <polygon points="0,0 15,0 15,15" fill="#808080" />
      </svg>

      <MainPane />
      <VolumePane />
      <MacdPane />
      <OrderShareBars />
      <TradeBars />

      <div style={{ position: "absolute", left: 13, top: 22, width: 8, height: 8, borderRadius: 4, background: BLUE }} />
      <T x={27} y={25} size={16} color="#555">尿素2609</T>
      <T x={99} y={21} size={10} color="#f00000">M</T>
      <T x={113} y={25} size={15} color="#555" font='"Liberation Serif", serif'>(CZCE  UR609)</T>
      <T x={237} y={25} size={16} color="#555">1小时</T>
      <Chevron x={284} y={22} color="#333" />

      <T x={53} y={50} size={17.5} color={LINE_BLUE}>MA组合(5,10,20,40,60,0)</T>
      <Chevron x={256} y={47} color={LINE_BLUE} />
      <T x={283} y={50} size={17.5} color="#000">MA5 1875.00</T>
      <T x={401} y={50} size={17.5} color={LINE_BLUE}>MA10 1879.00</T>
      <T x={529} y={50} size={17.5} color="#ff00ff">MA20 1898.50</T>
      <T x={656} y={50} size={17.5} color={GREEN}>MA40 1950.97</T>
      <T x={786} y={50} size={17.5} color={GRAY}>MA60 1971.33</T>

      <T x={47} y={1022} size={18} color="#00008b">56天</T>
      <T x={2045} y={1022} size={17} color="#00008b">17分12秒</T>

      <T x={53} y={1049} size={17.5} color={LINE_BLUE}>CJL</T>
      <Chevron x={83} y={1046} color={LINE_BLUE} />
      <T x={112} y={1049} size={17.5}>成交量</T>
      <T x={172} y={1049} size={17.5} color="#000">15416.00</T>
      <T x={259} y={1049} size={17.5}>持仓量</T>
      <T x={318} y={1049} size={17.5} color="#000">333745.00</T>

      <T x={53} y={1192} size={17.5} color={LINE_BLUE}>MACD(12,26,9)</T>
      <Chevron x={178} y={1189} color={LINE_BLUE} />
      <T x={205} y={1192} size={17.5} color="#000">DIFF -25.98</T>
      <T x={312} y={1192} size={17.5} color={LINE_BLUE}>DEA -26.69</T>
      <T x={422} y={1192} size={17.5} color="#000">1.41</T>

      <SidePanel />
      <Watermark />
    </div>
  );
}
